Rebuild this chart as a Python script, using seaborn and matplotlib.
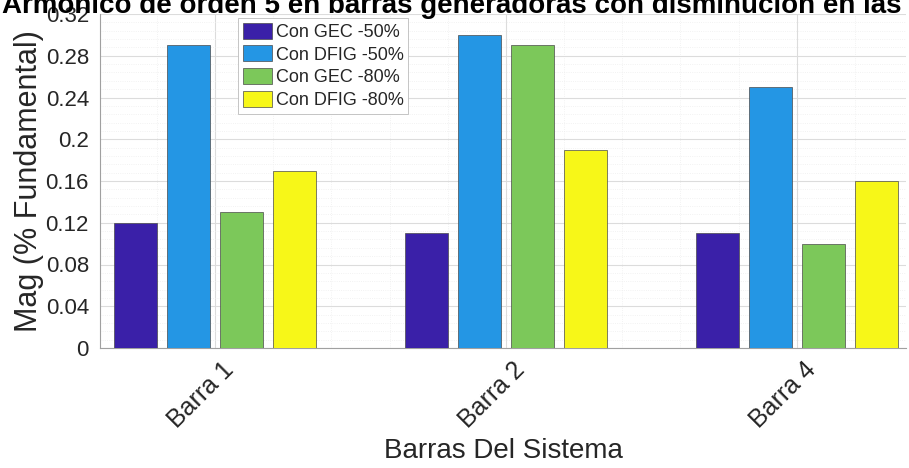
import numpy as np
import pandas as pd
import matplotlib
matplotlib.use("Agg")
import matplotlib.pyplot as plt
import matplotlib.transforms as mtransforms
from matplotlib.ticker import MultipleLocator
import seaborn as sns

# data
barras = ["Barra 1", "Barra 2", "Barra 4"]
series = ["Con GEC -50%", "Con DFIG -50%", "Con GEC -80%", "Con DFIG -80%"]
gec_50 = [0.12, 0.11, 0.11]
dfig_50 = [0.29, 0.30, 0.25]
gec_80 = [0.13, 0.29, 0.10]
dfig_80 = [0.17, 0.19, 0.16]
y_ticks = [0, 0.04, 0.08, 0.12, 0.16, 0.2, 0.24, 0.28, 0.32]
y_tick_labels = ["0", "0.04", "0.08", "0.12", "0.16", "0.2", "0.24", "0.28", "0.32"]
colors = ["#3A20A8", "#2496E4", "#7CC85A", "#F7F718"]

title = "Armónico de orden 5 en barras generadoras con disminución en las"

values = [gec_50, dfig_50, gec_80, dfig_80]
rows = []
for name, vals in zip(series, values):
    for b, v in zip(barras, vals):
        rows.append({"Barra": b, "Serie": name, "Mag": v})
df = pd.DataFrame(rows)

sns.set_theme(style="white")
plt.rcParams["font.family"] = ["Liberation Sans", "DejaVu Sans"]

fig = plt.figure(figsize=(9.09, 4.68), dpi=100)
ax = fig.add_axes([100 / 909, 120 / 468, 806 / 909, 334 / 468])

sns.barplot(data=df, x="Barra", y="Mag", hue="Serie", order=barras,
            hue_order=series, palette=colors, saturation=1, width=0.73,
            gap=0.19, edgecolor="#4A4A4A", linewidth=0.5, errorbar=None,
            ax=ax, zorder=3)

ax.set_xlim(-0.395, 2.375)
ax.set_ylim(0, 0.32)
ax.set_yticks(y_ticks)
ax.set_yticklabels(y_tick_labels)
ax.yaxis.set_minor_locator(MultipleLocator(0.008))
ax.xaxis.set_minor_locator(MultipleLocator(0.2))
ax.set_axisbelow(True)
ax.grid(True, which="major", color="#DCDCDC", linewidth=0.8)
ax.grid(True, which="minor", color="#EEEEEE", linewidth=0.6, linestyle=":")

ax.tick_params(axis="both", which="major", labelsize=16, colors="#262626",
               direction="in", length=4, width=0.6)
ax.tick_params(axis="both", which="minor", length=0)
ax.tick_params(axis="y", pad=8)
ax.tick_params(axis="x", pad=7, labelsize=18)
shift = mtransforms.ScaledTranslation(7 / 100, 0, fig.dpi_scale_trans)
for lbl in ax.get_xticklabels():
    lbl.set_rotation(45)
    lbl.set_ha("right")
    lbl.set_rotation_mode("anchor")
    lbl.set_transform(lbl.get_transform() + shift)
for lbl in ax.get_xticklabels() + ax.get_yticklabels():
    lbl.set_color("#262626")

ax.set_xlabel("Barras Del Sistema", fontsize=20, color="#262626", labelpad=4)
ax.set_ylabel("Mag (% Fundamental)", fontsize=22, color="#262626", labelpad=1)

for side in ["top", "right"]:
    ax.spines[side].set_visible(False)
for side in ["left", "bottom"]:
    ax.spines[side].set_color("#A0A0A0")
    ax.spines[side].set_linewidth(0.8)

leg = ax.legend(loc="upper left", bbox_to_anchor=(238 / 909, 1 - 18 / 468),
                bbox_transform=fig.transFigure, fontsize=13, frameon=True,
                fancybox=False, edgecolor="#BBBBBB", framealpha=1,
                handlelength=1.65, handleheight=1.0, handletextpad=0.2,
                labelspacing=0.25, borderpad=0.25, borderaxespad=0)
leg.get_frame().set_linewidth(0.6)
for t in leg.get_texts():
    t.set_color("#262626")

fig.text(452 / 909, 1 - 13 / 468, title, ha="center", va="baseline",
         fontsize=20, fontweight="bold", color="black")

fig.savefig("out.png", dpi=100)
